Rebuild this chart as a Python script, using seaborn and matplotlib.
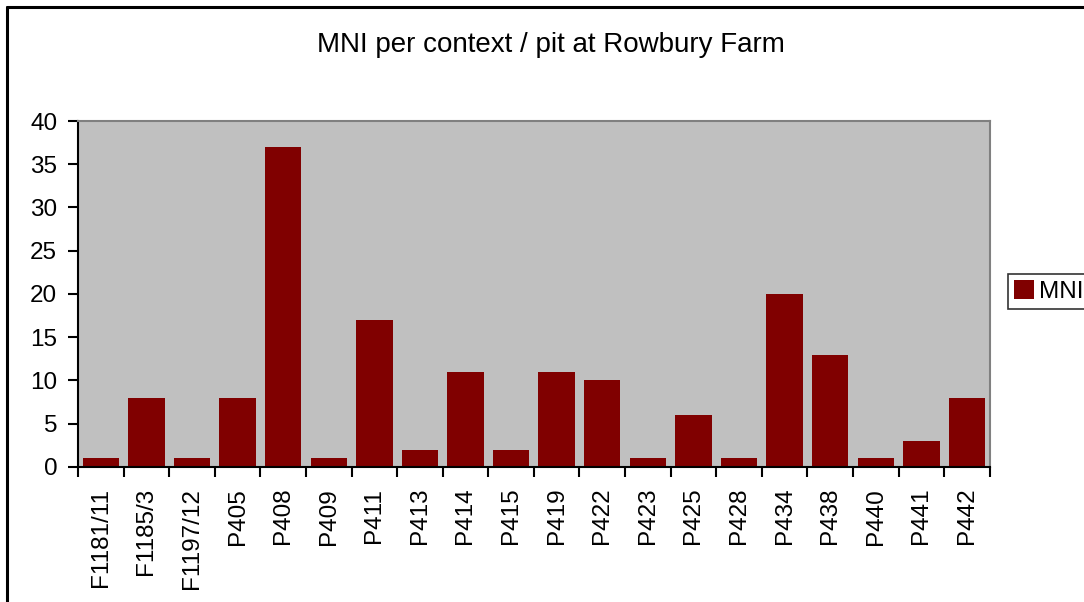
import matplotlib
matplotlib.use("Agg")
import matplotlib.pyplot as plt
from matplotlib.lines import Line2D
from matplotlib.patches import Patch
import seaborn as sns
import pandas as pd

contexts = ["F1181/11", "F1185/3", "F1197/12", "P405", "P408", "P409", "P411",
            "P413", "P414", "P415", "P419", "P422", "P423", "P425", "P428",
            "P434", "P438", "P440", "P441", "P442"]
mni = [1, 8, 1, 8, 37, 1, 17, 2, 11, 2, 11, 10, 1, 6, 1, 20, 13, 1, 3, 8]

df = pd.DataFrame({"context": contexts, "MNI": mni})

sns.set_theme(style="white")
plt.rcParams["font.family"] = ["Liberation Sans", "DejaVu Sans"]
plt.rcParams["text.color"] = "black"
plt.rcParams["xtick.color"] = "black"
plt.rcParams["ytick.color"] = "black"

bar_color = "#800000"

fig = plt.figure(figsize=(10.84, 6.02), dpi=100)
ax = fig.add_axes([0.072, 0.2243, 0.841, 0.5747])
ax.set_facecolor("#C0C0C0")

sns.barplot(data=df, x="context", y="MNI", color=bar_color, saturation=1,
            width=0.8, edgecolor="none", ax=ax)

ax.set_xlim(-0.5, len(contexts) - 0.5)
ax.set_ylim(0, 40)
ax.set_yticks(range(0, 41, 5))
ax.set_xlabel("")
ax.set_ylabel("")

# category labels centred, tick marks on the category boundaries
ax.set_xticks(range(len(contexts)))
ax.set_xticklabels(contexts, rotation=90, fontsize=17.5)
ax.set_xticks([i - 0.5 for i in range(len(contexts) + 1)], minor=True)
ax.tick_params(axis="x", which="major", length=0, pad=15)
ax.tick_params(axis="x", which="minor", length=7, width=1.5, color="black", direction="out", bottom=True)
ax.tick_params(axis="y", length=7, width=1.5, color="black", direction="out", left=True, labelsize=17.5, pad=8)

for side in ["left", "bottom"]:
    ax.spines[side].set_color("black")
    ax.spines[side].set_linewidth(1.5)
for side in ["top", "right"]:
    ax.spines[side].set_visible(True)
    ax.spines[side].set_color("#808080")
    ax.spines[side].set_linewidth(1.5)

fig.text(0.508, 0.925, "MNI per context / pit at Rowbury Farm", ha="center", va="center", fontsize=20)

handle = Patch(facecolor=bar_color, edgecolor="none", label="MNI")
leg = fig.legend(handles=[handle], loc="center left", bbox_to_anchor=(0.930, 0.516),
                 frameon=True, fancybox=False, fontsize=17.5, handlelength=0.8,
                 handleheight=0.8, handletextpad=0.2, borderpad=0.25, borderaxespad=0)
leg.get_frame().set_edgecolor("black")
leg.get_frame().set_linewidth(1.2)

# outer chart frame (left and top edges visible)
fig.add_artist(Line2D([7 / 1084, 7 / 1084], [0, 1 - 7 / 602], color="black", lw=2.2, transform=fig.transFigure))
fig.add_artist(Line2D([7 / 1084, 1], [1 - 7 / 602, 1 - 7 / 602], color="black", lw=2.2, transform=fig.transFigure))

fig.savefig("out.png", dpi=100)
